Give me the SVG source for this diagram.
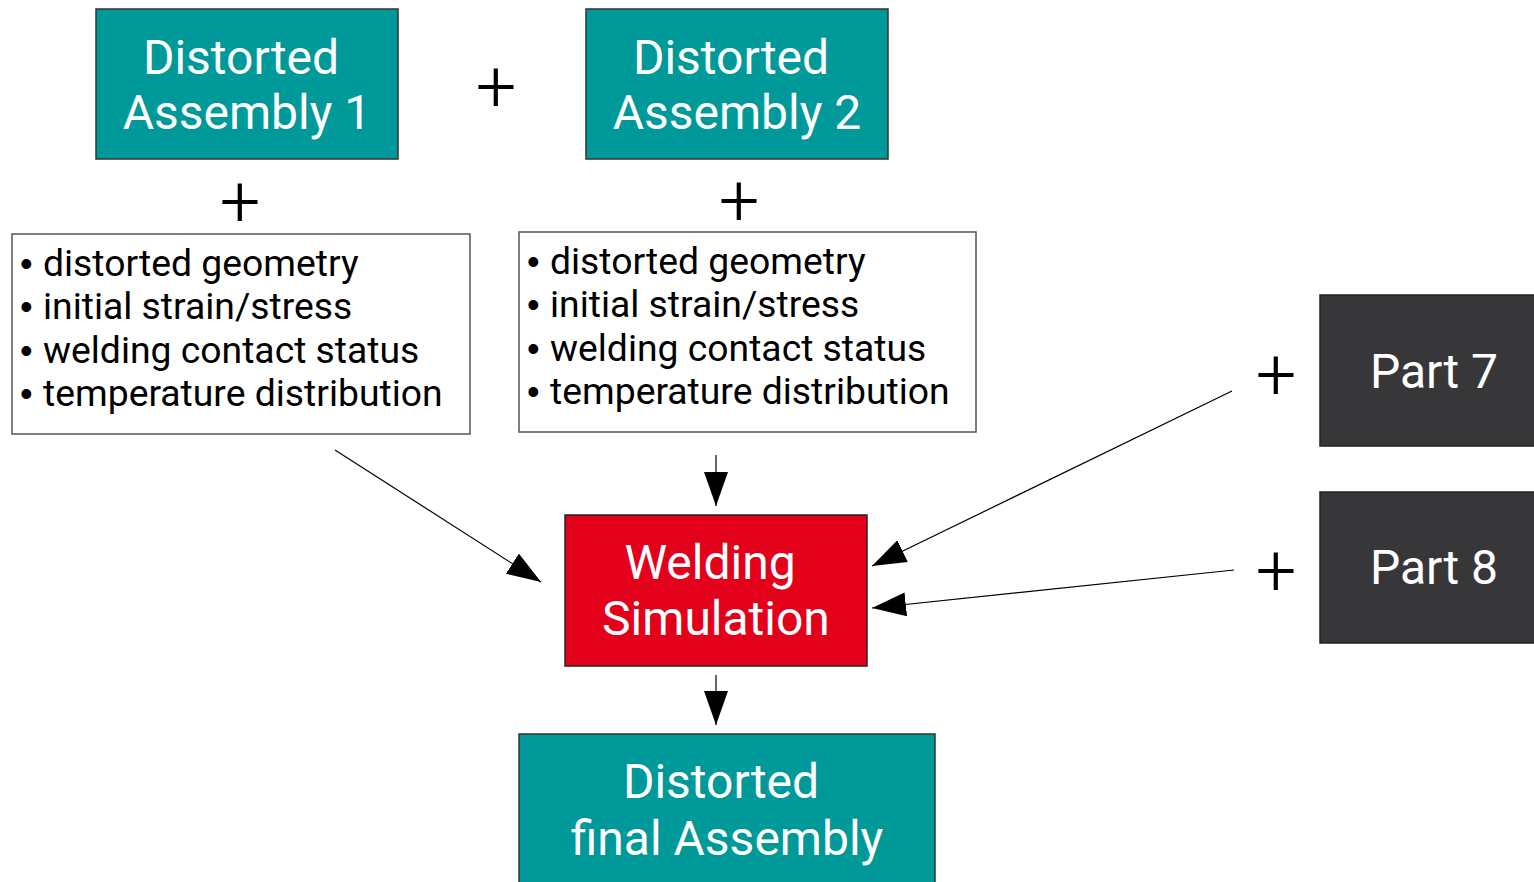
<svg xmlns="http://www.w3.org/2000/svg" width="1534" height="882" viewBox="0 0 1534 882">
<defs>
<marker id="ah" markerUnits="userSpaceOnUse" markerWidth="36" markerHeight="26" refX="34" refY="12" orient="auto">
<path d="M0,0 L34,12 L0,24 z" fill="#000"/>
</marker>
<style>
.lbl{font-family:Roboto,"Liberation Sans",sans-serif;font-size:48px;fill:#fff;text-anchor:middle}
.lst{font-family:Roboto,"Liberation Sans",sans-serif;font-size:37.3px;fill:#000}
.bul{font-family:"Liberation Sans",sans-serif;font-size:36px;fill:#000}
.plus{font-family:Roboto,"Liberation Sans",sans-serif;font-size:72px;font-weight:300;fill:#000;text-anchor:middle}
.teal{fill:#009999;stroke:#333;stroke-width:1.5}
.dark{fill:#373739;stroke:#222;stroke-width:1.5}
.red{fill:#e2001a;stroke:#222;stroke-width:1.5}
.box{fill:#fff;stroke:#555;stroke-width:1.5}
.conn{stroke:#000;stroke-width:1.2;fill:none;marker-end:url(#ah)}
</style>
</defs>
<rect width="1534" height="882" fill="#fff"/>
<g id="assembly1">
<rect class="teal" x="96" y="9" width="302" height="150"/>
<text class="lbl" x="241" y="74">Distorted</text>
<text class="lbl" x="247" y="129">Assembly 1</text>
</g>
<g id="assembly2">
<rect class="teal" x="586" y="9" width="302" height="150"/>
<text class="lbl" x="731" y="74">Distorted</text>
<text class="lbl" x="737" y="129">Assembly 2</text>
</g>
<g id="list1">
<rect class="box" x="12" y="234" width="458" height="200"/>
<text class="bul" x="20" y="276">•</text><text class="lst" x="43" y="276">distorted geometry</text>
<text class="bul" x="20" y="319">•</text><text class="lst" x="43" y="319">initial strain/stress</text>
<text class="bul" x="20" y="363">•</text><text class="lst" x="43" y="363">welding contact status</text>
<text class="bul" x="20" y="406">•</text><text class="lst" x="43" y="406">temperature distribution</text>
</g>
<g id="list2">
<rect class="box" x="519" y="232" width="457" height="200"/>
<text class="bul" x="527" y="274">•</text><text class="lst" x="550" y="274">distorted geometry</text>
<text class="bul" x="527" y="317">•</text><text class="lst" x="550" y="317">initial strain/stress</text>
<text class="bul" x="527" y="361">•</text><text class="lst" x="550" y="361">welding contact status</text>
<text class="bul" x="527" y="404">•</text><text class="lst" x="550" y="404">temperature distribution</text>
</g>
<g id="part7">
<rect class="dark" x="1320" y="295" width="230" height="151"/>
<text class="lbl" x="1434" y="388">Part 7</text>
</g>
<g id="part8">
<rect class="dark" x="1320" y="492" width="230" height="151"/>
<text class="lbl" x="1434" y="584">Part 8</text>
</g>
<g id="welding">
<rect class="red" x="565" y="515" width="302" height="151"/>
<text class="lbl" x="710" y="579">Welding</text>
<text class="lbl" x="716" y="635">Simulation</text>
</g>
<g id="final">
<rect class="teal" x="519" y="734" width="416" height="160"/>
<text class="lbl" x="721" y="798">Distorted</text>
<text class="lbl" x="727" y="855">final Assembly</text>
</g>
<g id="plus-signs">
<text class="plus" x="496" y="111">+</text>
<text class="plus" x="240" y="226">+</text>
<text class="plus" x="739" y="225">+</text>
<text class="plus" x="1276" y="399">+</text>
<text class="plus" x="1276" y="595">+</text>
</g>
<g id="connectors">
<line class="conn" x1="335" y1="450" x2="541" y2="582"/>
<line class="conn" x1="716" y1="455" x2="716" y2="506"/>
<line class="conn" x1="1232" y1="391" x2="872" y2="566"/>
<line class="conn" x1="1234" y1="570" x2="872" y2="608"/>
<line class="conn" x1="716" y1="675" x2="716" y2="725"/>
</g>
</svg>
